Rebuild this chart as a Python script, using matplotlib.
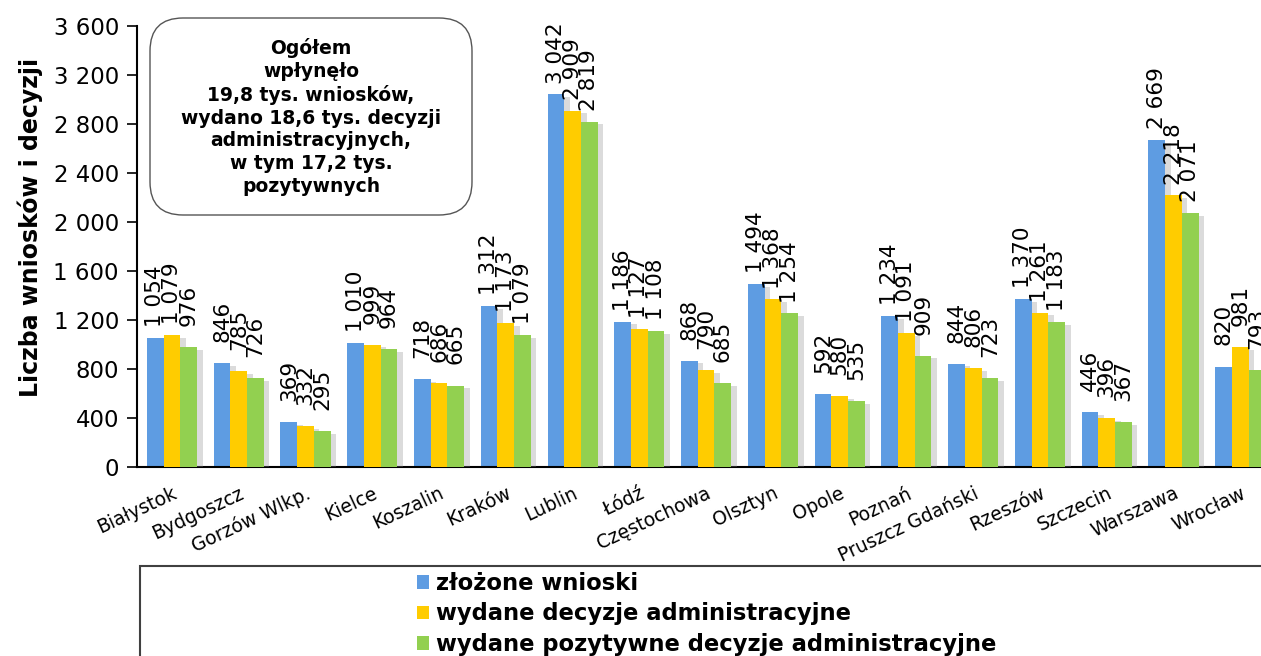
import numpy as np
import matplotlib
matplotlib.use("Agg")
import matplotlib.pyplot as plt
import matplotlib.patheffects as pe
from matplotlib.patches import FancyBboxPatch, Rectangle, Patch

plt.rcParams.update({
    "font.family": "DejaVu Sans",
})

# ---------- data ----------
cities = ["Białystok", "Bydgoszcz", "Gorzów Wlkp.", "Kielce", "Koszalin", "Kraków",
          "Lublin", "Łódź", "Częstochowa", "Olsztyn", "Opole", "Poznań",
          "Pruszcz Gdański", "Rzeszów", "Szczecin", "Warszawa", "Wrocław"]
wnioski = [1054, 846, 369, 1010, 718, 1312, 3042, 1186, 868, 1494, 592, 1234,
           844, 1370, 446, 2669, 820]
decyzje = [1079, 785, 332, 999, 686, 1173, 2909, 1127, 790, 1368, 580, 1091,
           806, 1261, 396, 2218, 981]
pozytywne = [976, 726, 295, 964, 665, 1079, 2819, 1108, 685, 1254, 535, 909,
             723, 1183, 367, 2071, 793]

series_names = ["złożone wnioski", "wydane decyzje administracyjne",
                "wydane pozytywne decyzje administracyjne"]
colors = ["#5E9CE2", "#FFCC00", "#92D050"]
y_ticks = list(range(0, 3601, 400))

note = ("Ogółem\nwpłynęło\n19,8 tys. wniosków,\nwydano 18,6 tys. decyzji\n"
        "administracyjnych,\nw tym 17,2 tys.\npozytywnych")


def fmt(v):
    return f"{v:,}".replace(",", " ")


fig = plt.figure(figsize=(12.61, 6.56), dpi=100)
ax = fig.add_axes([137 / 1261, 189 / 656, 1 - 137 / 1261, 441 / 656])

x = np.arange(len(cities))
w = 0.25
shadow = [pe.SimplePatchShadow(offset=(4, -2), shadow_rgbFace="#888888", alpha=0.3),
          pe.Normal()]
for k, (vals, c) in enumerate(zip([wnioski, decyzje, pozytywne], colors)):
    bars = ax.bar(x + (k - 1) * w, vals, width=w, color=c, zorder=2 + k)
    for b in bars:
        b.set_path_effects(shadow)
    # labels centred a fixed distance above the bar top, like Excel does
    for xi, v in zip(x + (k - 1) * w, vals):
        ax.annotate(fmt(v), (xi, v), xytext=(0, 30), textcoords="offset points",
                    rotation=90, ha="center", va="center", fontsize=15.5,
                    zorder=10)

ax.set_xlim(-0.524, 16.31)
ax.set_ylim(0, 3600)
ax.set_yticks(y_ticks)
ax.set_yticklabels([fmt(v) for v in y_ticks], fontsize=16.5)
ax.set_xticks(x)
ax.set_xticklabels(cities, rotation=25, ha="right", rotation_mode="anchor",
                   fontsize=13.5)
ax.tick_params(axis="x", length=0, pad=12)
ax.tick_params(axis="y", length=7, width=1.2, pad=6)
for s in ["top", "right"]:
    ax.spines[s].set_visible(False)
for s in ["left", "bottom"]:
    ax.spines[s].set_linewidth(1.5)
ax.set_ylabel("Liczba wniosków i decyzji", fontsize=17, fontweight="bold")
ax.yaxis.set_label_coords(-0.084, 0.543)

# note box
box = FancyBboxPatch((1.50, 4.41), 3.22, 1.97,
                     boxstyle="round,pad=0,rounding_size=0.33",
                     transform=fig.dpi_scale_trans, facecolor="white",
                     edgecolor="#555555", lw=1.0, zorder=20)
fig.add_artist(box)
fig.text(311 / 1261, (656 - 117) / 656, note, ha="center", va="center",
         fontsize=13.5, fontweight="bold", linespacing=1.25, zorder=21)

# legend box
fig.add_artist(Rectangle((140 / 1261, -0.05), 1.0, 0.05 + 90 / 656,
                         transform=fig.transFigure, facecolor="white",
                         edgecolor="#404040", lw=1.5))
handles = [Patch(facecolor=c, edgecolor="none") for c in colors]
fig.legend(handles, series_names, loc="upper left",
           bbox_to_anchor=(417 / 1261, 84 / 656), frameon=False,
           prop={"size": 16.3, "weight": "bold"}, handlelength=0.53,
           handleheight=0.53, handletextpad=0.3, labelspacing=0.33,
           borderpad=0, borderaxespad=0)

fig.savefig("out.png", dpi=100)
